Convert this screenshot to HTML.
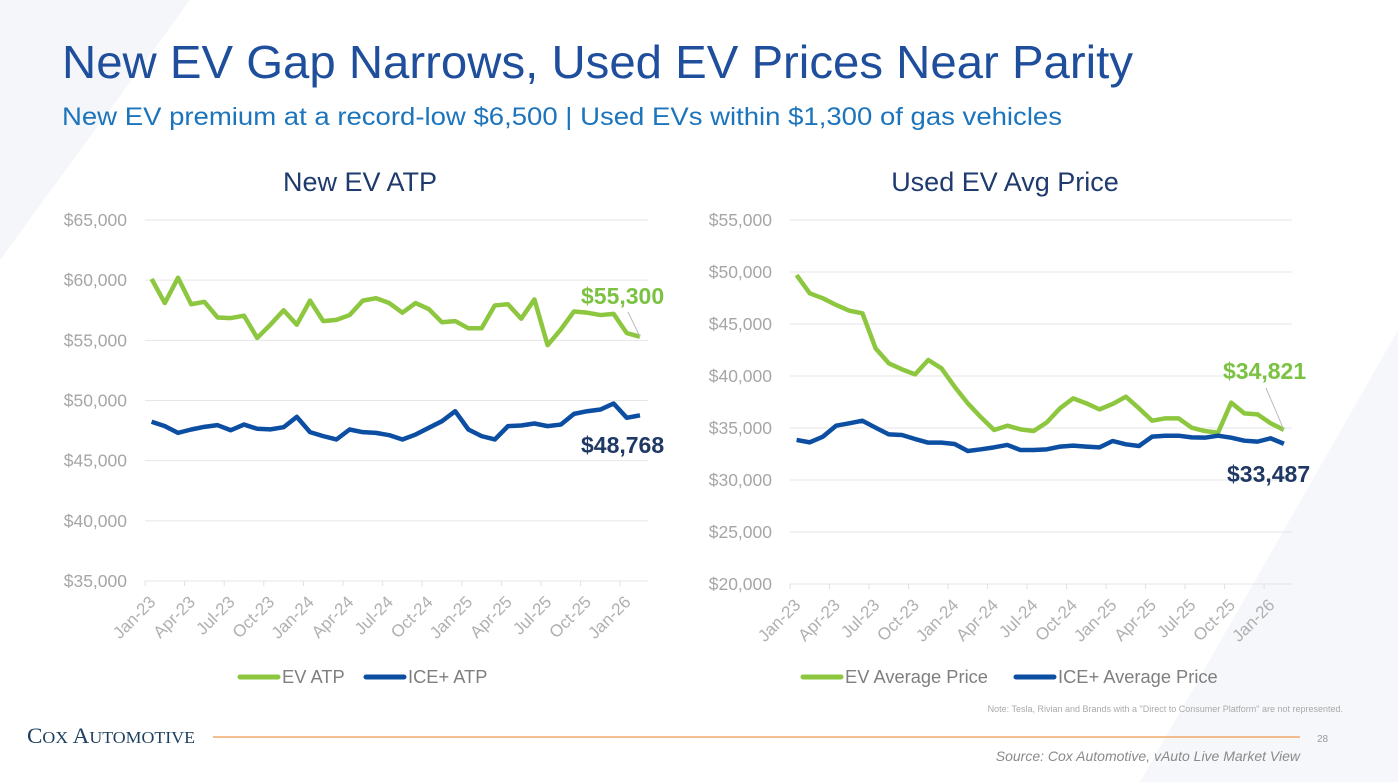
<!DOCTYPE html>
<html><head><meta charset="utf-8"><style>
body{margin:0;background:#fff;}
svg{display:block;font-family:"Liberation Sans",sans-serif;}
</style></head><body>
<svg id="s" width="1398" height="782" viewBox="0 0 1398 782">
<polygon points="0,0 190,0 0,260" fill="#f4f6f9"/>
<polygon points="1398,330 1398,782 1140,782" fill="#f6f7fa"/>
<text x="62" y="78" font-size="46" fill="#1f4e9c" textLength="1071" lengthAdjust="spacingAndGlyphs">New EV Gap Narrows, Used EV Prices Near Parity</text>
<text x="62" y="125" font-size="25" fill="#1c75bc" textLength="1000" lengthAdjust="spacingAndGlyphs">New EV premium at a record-low $6,500 | Used EVs within $1,300 of gas vehicles</text>
<g id="c1"></g>
<g id="c2"></g>
<text x="27" y="743" font-size="22" fill="#1e4060" font-family="Liberation Serif,serif" textLength="168" lengthAdjust="spacingAndGlyphs">C<tspan font-size="17">OX</tspan> A<tspan font-size="17">UTOMOTIVE</tspan></text>
<line x1="213" y1="737" x2="1300" y2="737" stroke="#f0a868" stroke-width="1.5"/>
<text x="1317" y="742" font-size="10" fill="#999">28</text>
<text x="1343" y="712" font-size="9" fill="#aaa" text-anchor="end">Note: Tesla, Rivian and Brands with a "Direct to Consumer Platform" are not represented.</text>
<text x="1300" y="761" font-size="14" fill="#8a8a8a" font-style="italic" text-anchor="end">Source: Cox Automotive, vAuto Live Market View</text>
</svg>
<script>
const months = ["Jan-23","Feb-23","Mar-23","Apr-23","May-23","Jun-23","Jul-23","Aug-23","Sep-23","Oct-23","Nov-23","Dec-23","Jan-24","Feb-24","Mar-24","Apr-24","May-24","Jun-24","Jul-24","Aug-24","Sep-24","Oct-24","Nov-24","Dec-24","Jan-25","Feb-25","Mar-25","Apr-25","May-25","Jun-25","Jul-25","Aug-25","Sep-25","Oct-25","Nov-25","Dec-25","Jan-26","Feb-26"];
const newEv = [60100,58100,60200,58000,58200,56900,56850,57050,55200,56300,57500,56300,58300,56600,56700,57100,58300,58500,58100,57300,58100,57600,56500,56600,56000,56000,57900,58000,56800,58400,54600,55900,57400,57300,57100,57200,55600,55300];
const newIce = [48230,47870,47310,47590,47810,47950,47530,48000,47650,47600,47780,48640,47370,47040,46760,47590,47370,47310,47120,46760,47170,47730,48280,49110,47590,47040,46760,47870,47920,48090,47870,48000,48890,49110,49250,49750,48560,48768];
const usedEv = [49710,47950,47470,46830,46280,46030,42660,41220,40640,40160,41540,40740,38970,37370,36030,34810,35220,34870,34710,35540,36890,37850,37370,36790,37310,38010,36890,35700,35930,35930,35030,34710,34550,37440,36410,36310,35450,34821];
const usedIce = [33850,33620,34170,35220,35450,35700,35030,34390,34330,33940,33590,33590,33460,32790,32950,33140,33370,32880,32880,32950,33210,33300,33210,33140,33750,33430,33270,34170,34260,34260,34100,34070,34260,34070,33780,33690,34010,33487];
const ticks1 = [35000,40000,45000,50000,55000,60000,65000];
const ticks2 = [20000,25000,30000,35000,40000,45000,50000,55000];
const NS="http://www.w3.org/2000/svg";
function mk(p,tag,at){const e=document.createElementNS(NS,tag);for(const k in at)e.setAttribute(k,at[k]);p.appendChild(e);return e;}
function fmt(v){return "$"+v.toLocaleString("en-US");}
function chart(g,cfg){
  const x=i=>cfg.x0+cfg.step*(i+0.5);
  const y=v=>cfg.yTop+(cfg.max-v)/(cfg.max-cfg.min)*(cfg.yBot-cfg.yTop);
  const t=mk(g,"text",{x:cfg.cx,y:191,"font-size":27,fill:"#1f3a6e","text-anchor":"middle"});t.textContent=cfg.title;
  
  
  cfg.ticks.forEach(v=>{
    const l=mk(g,"line",{x1:cfg.x0,x2:cfg.x1,y1:y(v),y2:y(v),stroke:"#e6e6e6","stroke-width":1});
    
    
    const tx=mk(g,"text",{x:cfg.x0-18,y:y(v)+6,"font-size":17.5,fill:"#a6a6a6","text-anchor":"end"});tx.textContent=fmt(v);
    
    
  });
  months.forEach((m,i)=>{
    if(i%3===0){
      const tk=mk(g,"line",{x1:cfg.x0+cfg.step*i,x2:cfg.x0+cfg.step*i,y1:y(cfg.min),y2:y(cfg.min)+5,stroke:"#e0e0e0"});
      
      
      const xl=mk(g,"text",{transform:`translate(${x(i)+5},${y(cfg.min)+22}) rotate(-45)`,"font-size":17,fill:"#b0b0b0","text-anchor":"end"});xl.textContent=m;
      
      
    }
  });
  cfg.series.forEach(s=>{
    const p=mk(g,"polyline",{points:s.data.map((v,i)=>x(i)+","+y(v)).join(" "),fill:"none",stroke:s.color,"stroke-width":4.5,"stroke-linejoin":"round"});
    
    
  });
  cfg.labels.forEach(L=>{
    const n=L.data.length-1, v=L.data[n];
    const tx=mk(g,"text",{x:L.lx,y:L.ly,"font-size":23,"font-weight":"bold",fill:L.color});tx.textContent=fmt(v);
    
    
    if(L.leader){const ln=mk(g,"line",{x1:L.leader[0],y1:L.leader[1],x2:x(n),y2:y(v),stroke:"#bbb","stroke-width":1});
      
      }
  });
  cfg.legend.forEach(L=>{
    const ln=mk(g,"line",{x1:L.x,x2:L.x+38,y1:677,y2:677,stroke:L.color,"stroke-width":5,"stroke-linecap":"round"});
    
    
    const tx=mk(g,"text",{x:L.x+42,y:683,"font-size":18.3,fill:"#7f7f7f"});tx.textContent=L.text;
    
    
  });
}
const G="#8dc63f",B="#0b4ea2";
chart(document.getElementById("c1"),{title:"New EV ATP",cx:360,x0:145,x1:648,step:13.2,yTop:220,yBot:581,min:35000,max:65000,ticks:ticks1,
 series:[{data:newEv,color:G,name:"ev-atp-line"},{data:newIce,color:B,name:"ice-atp-line"}],
 labels:[{data:newEv,color:"#7cc242",lx:581,ly:304,leader:[628,312],name:"ev-atp-last-value"},{data:newIce,color:"#1f3864",lx:581,ly:453,name:"ice-atp-last-value"}],
 legend:[{x:240,color:G,text:"EV ATP"},{x:366,color:B,text:"ICE+ ATP"}]});
chart(document.getElementById("c2"),{title:"Used EV Avg Price",cx:1005,x0:790,x1:1292,step:13.17,yTop:220,yBot:584,min:20000,max:55000,ticks:ticks2,
 series:[{data:usedEv,color:G,name:"ev-avg-price-line"},{data:usedIce,color:B,name:"ice-avg-price-line"}],
 labels:[{data:usedEv,color:"#7cc242",lx:1223,ly:379,leader:[1266,388],name:"ev-avg-last-value"},{data:usedIce,color:"#1f3864",lx:1227,ly:482,name:"ice-avg-last-value"}],
 legend:[{x:803,color:G,text:"EV Average Price"},{x:1016,color:B,text:"ICE+ Average Price"}]});
</script>
</body></html>
